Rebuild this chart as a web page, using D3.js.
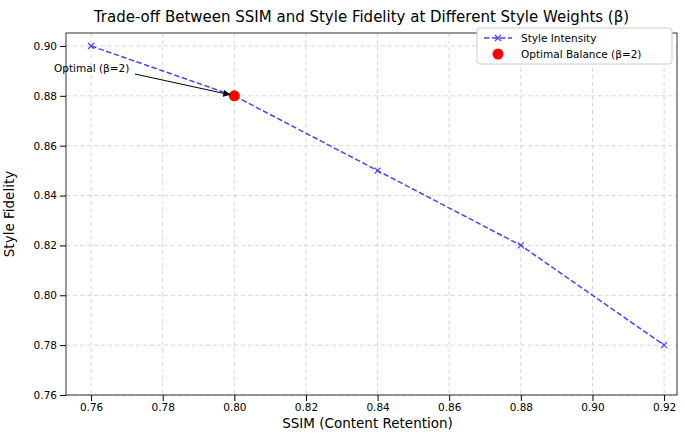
<!DOCTYPE html><html><head><script src="https://cdn.jsdelivr.net/npm/d3@7"></script>
<style>body{margin:0;background:#fff}text{font-family:"DejaVu Sans",sans-serif}</style></head><body>
<svg id="c" width="685" height="433"></svg>
<script>
const ssim=[0.76,0.80,0.84,0.88,0.92];
const fidelity=[0.90,0.88,0.85,0.82,0.78];
const optimal=[0.80,0.88];
const xTicks=[0.76,0.78,0.80,0.82,0.84,0.86,0.88,0.90,0.92];
const yTicks=[0.76,0.78,0.80,0.82,0.84,0.86,0.88,0.90];
const svg=d3.select("#c");
const L=66,R=677,T=33,B=395;
const x=d3.scaleLinear().domain([0.753,0.9236]).range([L,R]);
const y=d3.scaleLinear().domain([0.76,0.9052]).range([B,T]);
const g=svg.append("g");
g.selectAll(".gx").data(xTicks).join("line").attr("x1",d=>x(d)).attr("x2",d=>x(d)).attr("y1",T).attr("y2",B).attr("stroke","#ccc").attr("stroke-dasharray","4,3").attr("stroke-width",0.8);
g.selectAll(".gy").data(yTicks).join("line").attr("y1",d=>y(d)).attr("y2",d=>y(d)).attr("x1",L).attr("x2",R).attr("stroke","#ccc").attr("stroke-dasharray","4,3").attr("stroke-width",0.8);
const xa=svg.append("g").attr("transform",`translate(0,${B})`).call(d3.axisBottom(x).tickValues(xTicks).tickFormat(d3.format(".2f")).tickSizeOuter(0));
const ya=svg.append("g").attr("transform",`translate(${L},0)`).call(d3.axisLeft(y).tickValues(yTicks).tickFormat(d3.format(".2f")).tickSizeOuter(0));
[xa,ya].forEach(a=>{a.selectAll("text").attr("font-size",10.5).attr("fill","#000");a.select(".domain").remove();});
svg.append("rect").attr("x",L).attr("y",T).attr("width",R-L).attr("height",B-T).attr("fill","none").attr("stroke","#000").attr("stroke-width",0.8);
const pts=ssim.map((s,i)=>[s,fidelity[i]]);
svg.append("path").datum(pts).attr("d",d3.line().x(d=>x(d[0])).y(d=>y(d[1]))).attr("fill","none").attr("stroke","#4444ff").attr("stroke-width",1.5).attr("stroke-dasharray","5.5,2.5");
const cross=(sel,cx,cy)=>sel.append("path").attr("d",`M${cx-3},${cy-3}L${cx+3},${cy+3}M${cx-3},${cy+3}L${cx+3},${cy-3}`).attr("stroke","#4444ff").attr("stroke-width",1.2);
pts.forEach(p=>cross(svg,x(p[0]),y(p[1])));
svg.append("circle").attr("cx",x(optimal[0])).attr("cy",y(optimal[1])).attr("r",5.5).attr("fill","red");
svg.append("defs").append("marker").attr("id","ah").attr("viewBox","0 0 10 10").attr("refX",10).attr("refY",5).attr("markerWidth",7).attr("markerHeight",7).attr("orient","auto").append("path").attr("d","M0,0L10,5L0,10z").attr("fill","#000");
svg.append("line").attr("x1",135).attr("y1",74).attr("x2",x(optimal[0])-4).attr("y2",y(optimal[1])-1).attr("stroke","#000").attr("stroke-width",1).attr("marker-end","url(#ah)");
svg.append("text").attr("x",54).attr("y",72).attr("font-size",10.5).text("Optimal (β=2)");
svg.append("text").attr("x",(L+R)/2-10).attr("y",22).attr("text-anchor","middle").attr("font-size",15).text("Trade-off Between SSIM and Style Fidelity at Different Style Weights (β)");
svg.append("text").attr("x",(L+R)/2-4).attr("y",428).attr("text-anchor","middle").attr("font-size",13.5).text("SSIM (Content Retention)");
svg.append("text").attr("transform",`translate(14,${(T+B)/2}) rotate(-90)`).attr("text-anchor","middle").attr("font-size",13.5).text("Style Fidelity");
const lg=svg.append("g").attr("transform","translate(477,28)");
lg.append("rect").attr("width",195).attr("height",36).attr("rx",3).attr("fill","#fff").attr("stroke","#ccc");
lg.append("line").attr("x1",7).attr("x2",35).attr("y1",10).attr("y2",10).attr("stroke","#4444ff").attr("stroke-width",1.5).attr("stroke-dasharray","5.5,2.5");
cross(lg,21,10);
lg.append("text").attr("x",44).attr("y",14).attr("font-size",10.5).text("Style Intensity");
lg.append("circle").attr("cx",21).attr("cy",26).attr("r",5.5).attr("fill","red");
lg.append("text").attr("x",44).attr("y",30).attr("font-size",10.5).text("Optimal Balance (β=2)");
</script></body></html>
